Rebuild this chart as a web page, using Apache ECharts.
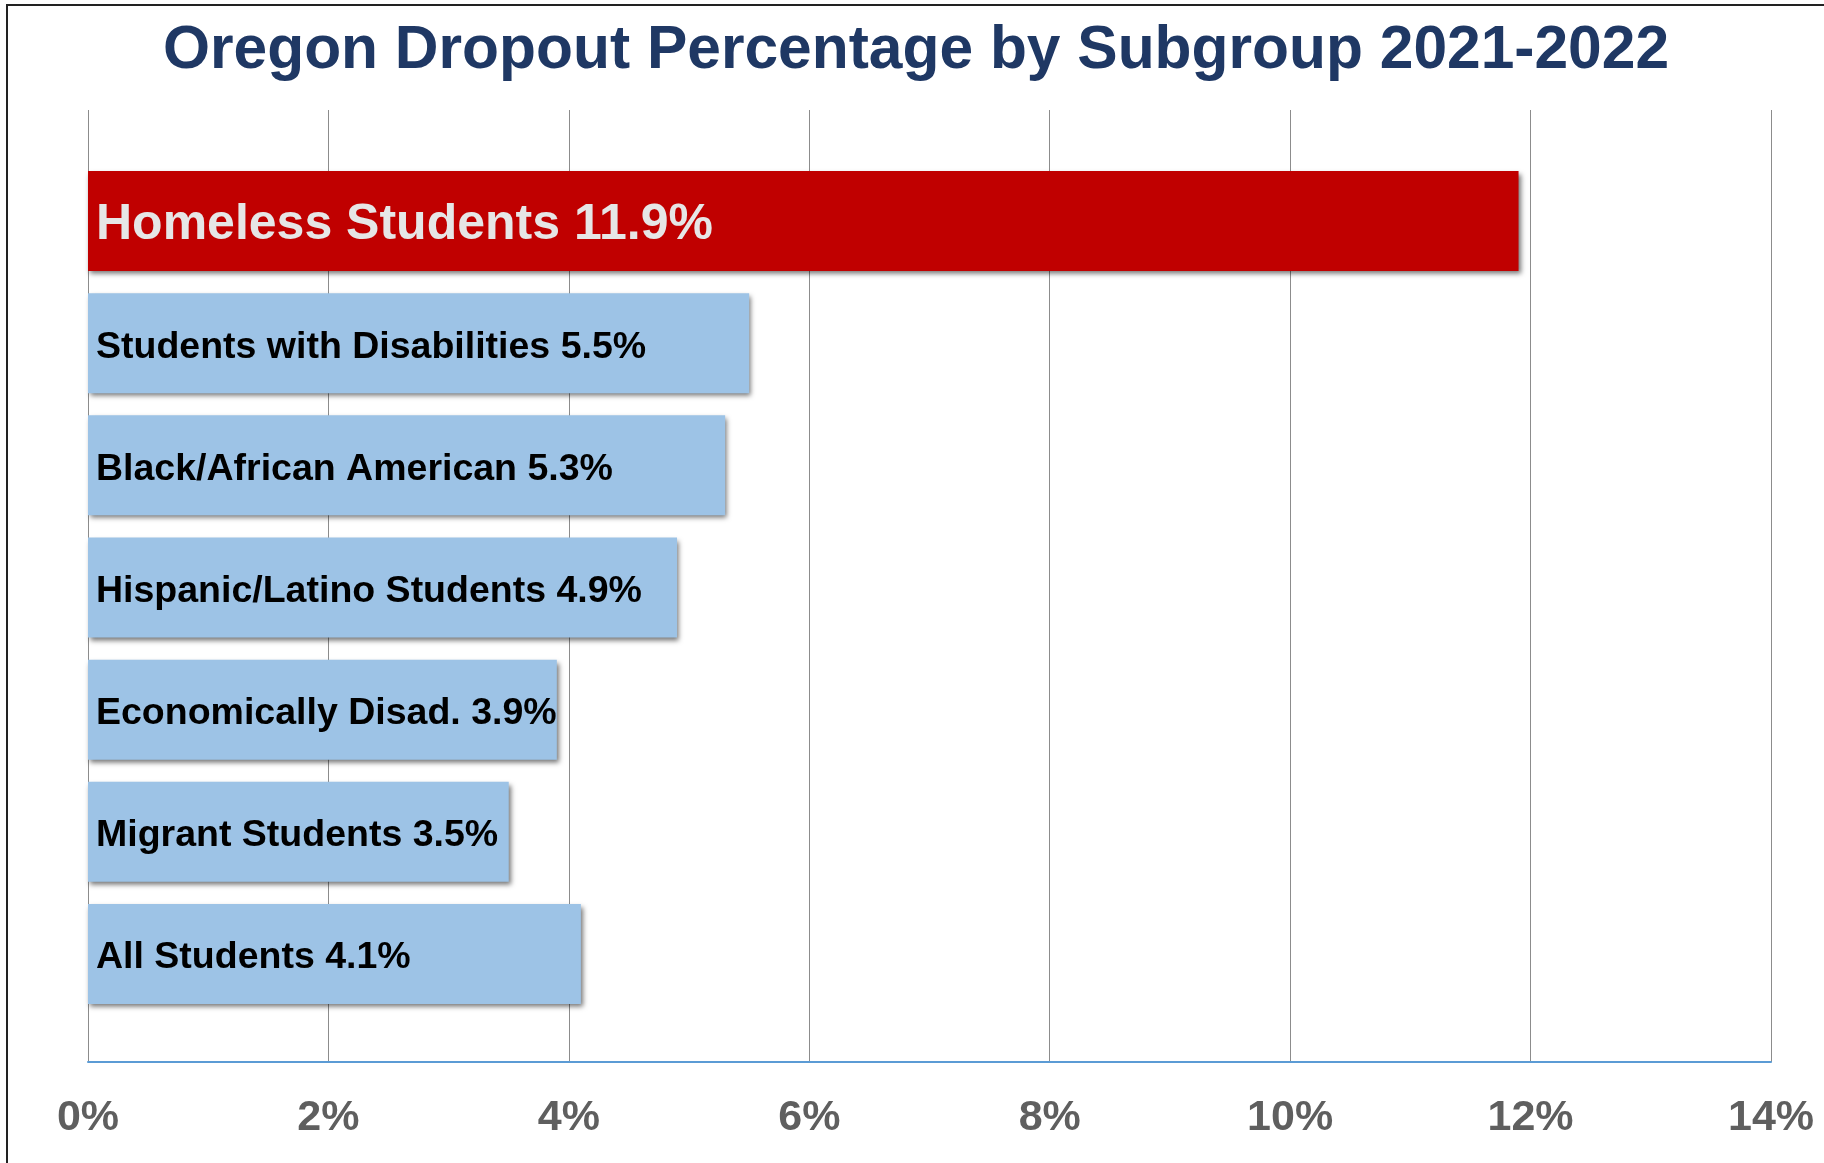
<!DOCTYPE html>
<html>
<head>
<meta charset="utf-8">
<script src="https://cdn.jsdelivr.net/npm/echarts@6/dist/echarts.min.js"></script>
<style>
  html, body { margin: 0; padding: 0; background: #fff; }
  #chart { width: 1824px; height: 1163px; }
</style>
</head>
<body>
<div id="chart"></div>
<script>
// data, top to bottom
var categories = ['Homeless Students', 'Students with Disabilities', 'Black/African American',
  'Hispanic/Latino Students', 'Economically Disad.', 'Migrant Students', 'All Students'];
var values = [11.9, 5.5, 5.3, 4.9, 3.9, 3.5, 4.1];
var highlight = [true, false, false, false, false, false, false];
var xTicks = [0, 2, 4, 6, 8, 10, 12, 14];

var chart = echarts.init(document.getElementById('chart'));

var barData = values.map(function (v, i) {
  var hot = highlight[i];
  return {
    value: v,
    itemStyle: { color: hot ? '#C00000' : '#9DC3E6' },
    label: {
      color: hot ? '#E6E6E6' : '#000',
      fontSize: hot ? 50 : 37.5
    }
  };
});

var option = {
  animation: false,
  title: {
    text: 'Oregon Dropout Percentage by Subgroup 2021-2022',
    left: 911,
    textAlign: 'center',
    top: 16,
    textStyle: {
      fontFamily: 'Liberation Sans',
      fontWeight: 'bold',
      fontSize: 60.5,
      color: '#1F3864'
    }
  },
  graphic: [{
    type: 'rect',
    shape: { x: 7, y: 5, width: 3000, height: 3000 },
    style: { fill: 'none', stroke: '#222', lineWidth: 2 },
    silent: true
  }],
  grid: [
    { left: 88, right: 53, top: 110, bottom: 101 },
    { left: 88, right: 53, top: 160, bottom: 148 }
  ],
  xAxis: [{
    gridIndex: 0,
    type: 'value',
    min: xTicks[0],
    max: xTicks[xTicks.length - 1],
    interval: 2,
    axisLine: { show: true, lineStyle: { color: '#5B9BD5', width: 2 } },
    axisTick: { show: false },
    splitLine: { show: true, lineStyle: { color: '#8C8C8C', width: 1 } },
    axisLabel: {
      margin: 35,
      formatter: '{value}%',
      fontFamily: 'Liberation Sans',
      fontWeight: 'bold',
      fontSize: 43,
      color: '#5F5F5F'
    }
  }, {
    gridIndex: 1,
    type: 'value',
    min: xTicks[0],
    max: xTicks[xTicks.length - 1],
    show: false
  }],
  yAxis: [{
    gridIndex: 0,
    type: 'category',
    data: categories,
    show: false
  }, {
    gridIndex: 1,
    type: 'category',
    data: categories,
    inverse: true,
    show: false
  }],
  series: [{
    type: 'bar',
    xAxisIndex: 1,
    yAxisIndex: 1,
    barWidth: 100,
    data: barData,
    itemStyle: {
      shadowColor: 'rgba(0,0,0,0.55)',
      shadowBlur: 5,
      shadowOffsetX: 2,
      shadowOffsetY: 3
    },
    label: {
      show: true,
      position: 'insideLeft',
      distance: 8,
      offset: [0, 4],
      fontFamily: 'Liberation Sans',
      fontWeight: 'bold',
      formatter: function (p) { return p.name + ' ' + p.value + '%'; }
    }
  }]
};

chart.setOption(option);
window.addEventListener('resize', function () { chart.resize(); });
</script>
</body>
</html>
